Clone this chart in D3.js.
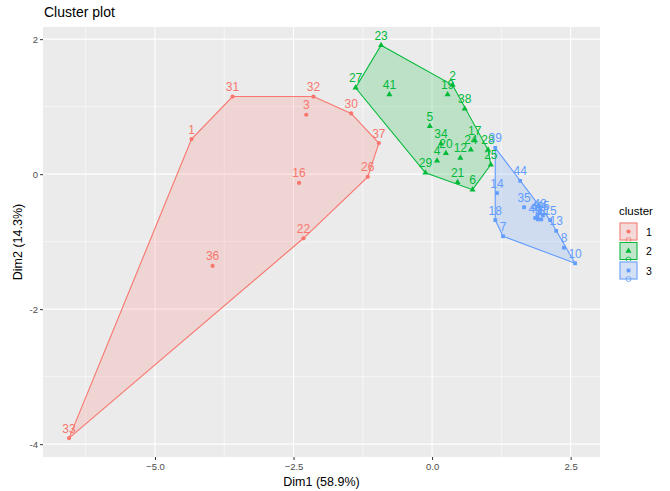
<!DOCTYPE html>
<html><head><meta charset="utf-8">
<script src="https://cdn.jsdelivr.net/npm/d3@7"></script>
<style>body{margin:0;background:#fff;font-family:"Liberation Sans",Arial,sans-serif}</style>
</head><body><svg id="c" width="670" height="491"></svg>
<script>
const clusterNames = ["1","2","3"];
const clusterColors = ["#F8766D","#00BA38","#619CFF"];
const labels1 = ["1","3","16","22","26","30","31","32","33","36","37"];
const dim1_1 = [-4.34,-2.27,-2.40,-2.32,-1.16,-1.46,-3.60,-2.14,-6.55,-3.96,-0.96];
const dim2_1 = [0.52,0.88,-0.13,-0.95,-0.04,0.90,1.15,1.15,-3.91,-1.36,0.46];
const labels2 = ["23","27","41","2","19","38","5","34","20","4","12","24","17","28","25","29","21","6"];
const dim1_2 = [-0.92,-1.38,-0.77,0.37,0.28,0.59,-0.04,0.16,0.25,0.09,0.51,0.70,0.77,1.01,1.06,-0.12,0.46,0.73];
const dim2_2 = [1.91,1.28,1.18,1.32,1.18,0.97,0.71,0.45,0.31,0.20,0.24,0.36,0.50,0.36,0.14,0.02,-0.12,-0.23];
const labels3 = ["39","44","14","18","7","35","40","43","45","15","9","11","42","13","8","10"];
const dim1_3 = [1.14,1.59,1.17,1.14,1.28,1.66,1.86,1.95,2.00,2.13,1.91,1.97,1.90,2.24,2.38,2.58];
const dim2_3 = [0.39,-0.10,-0.28,-0.68,-0.92,-0.49,-0.65,-0.58,-0.61,-0.68,-0.67,-0.67,-0.62,-0.84,-1.09,-1.32];
const xTicks = [-5.0,-2.5,0.0,2.5];
const yTicks = [-4,-2,0,2];
const xMinor = [-6.25,-3.75,-1.25,1.25];
const yMinor = [-3,-1,1];

const groups = [
  {lab:labels1,x:dim1_1,y:dim2_1},
  {lab:labels2,x:dim1_2,y:dim2_2},
  {lab:labels3,x:dim1_3,y:dim2_3}
];

const svg = d3.select("#c");
const L=43, R=600, T=27, B=457;
const x = d3.scaleLinear().domain([-7.02,3.03]).range([L,R]);
const y = d3.scaleLinear().domain([-4.19,2.18]).range([B,T]);

svg.append("rect").attr("x",L).attr("y",T).attr("width",R-L).attr("height",B-T).attr("fill","#EBEBEB");
const grid = svg.append("g");
xMinor.forEach(v=>grid.append("line").attr("x1",x(v)).attr("x2",x(v)).attr("y1",T).attr("y2",B).attr("stroke","#fff").attr("stroke-width",0.55));
yMinor.forEach(v=>grid.append("line").attr("y1",y(v)).attr("y2",y(v)).attr("x1",L).attr("x2",R).attr("stroke","#fff").attr("stroke-width",0.55));
xTicks.forEach(v=>grid.append("line").attr("x1",x(v)).attr("x2",x(v)).attr("y1",T).attr("y2",B).attr("stroke","#fff").attr("stroke-width",1.1));
yTicks.forEach(v=>grid.append("line").attr("y1",y(v)).attr("y2",y(v)).attr("x1",L).attr("x2",R).attr("stroke","#fff").attr("stroke-width",1.1));

// axes
const xAxis = d3.axisBottom(x).tickValues(xTicks).tickFormat(d3.format(".1f")).tickSize(3).tickPadding(3);
const yAxis = d3.axisLeft(y).tickValues(yTicks).tickFormat(d=>d).tickSize(3).tickPadding(2);
const gx = svg.append("g").attr("transform",`translate(0,${B})`).call(xAxis);
const gy = svg.append("g").attr("transform",`translate(${L},0)`).call(yAxis);
[gx,gy].forEach(g=>{
  g.select(".domain").remove();
  g.selectAll(".tick line").attr("stroke","#333");
  g.selectAll(".tick text").attr("fill","#4D4D4D").style("font-size","9.5px").style("font-family","Liberation Sans, Arial, sans-serif");
});

// hulls
groups.forEach((g,i)=>{
  const pts = g.x.map((v,j)=>[x(v),y(g.y[j])]);
  const hull = d3.polygonHull(pts);
  svg.append("path").attr("d","M"+hull.join("L")+"Z")
    .attr("fill",clusterColors[i]).attr("fill-opacity",0.2)
    .attr("stroke",clusterColors[i]).attr("stroke-width",1.1);
});

// points
const sym = [d3.symbolCircle,d3.symbolTriangle,d3.symbolSquare];
const symSize = [14,16,14];
groups.forEach((g,i)=>{
  g.x.forEach((v,j)=>{
    svg.append("path").attr("d",d3.symbol().type(sym[i]).size(symSize[i])())
      .attr("transform",`translate(${x(v)},${y(g.y[j])})`).attr("fill",clusterColors[i]);
  });
});
// labels
groups.forEach((g,i)=>{
  g.x.forEach((v,j)=>{
    svg.append("text").attr("x",x(v)).attr("y",y(g.y[j])-5.5)
      .attr("text-anchor","middle").attr("fill",clusterColors[i])
      .style("font-size","12px").text(g.lab[j]);
  });
});

// titles
svg.append("text").attr("x",44).attr("y",17).style("font-size","14px").attr("fill","#000").text("Cluster plot");
svg.append("text").attr("x",(L+R)/2).attr("y",486).attr("text-anchor","middle").style("font-size","12.5px").attr("fill","#000").text("Dim1 (58.9%)");
svg.append("text").attr("transform",`translate(22,${(T+B)/2}) rotate(-90)`).attr("text-anchor","middle").style("font-size","12.5px").attr("fill","#000").text("Dim2 (14.3%)");

// legend
const lg = svg.append("g");
lg.append("text").attr("x",619).attr("y",215).style("font-size","11.5px").attr("fill","#000").text("cluster");
clusterNames.forEach((n,i)=>{
  const ky = 222 + i*19.5;
  lg.append("rect").attr("x",619).attr("y",ky).attr("width",19).attr("height",19).attr("fill","#F2F2F2");
  lg.append("rect").attr("x",620).attr("y",ky+1).attr("width",17).attr("height",17)
    .attr("fill",clusterColors[i]).attr("fill-opacity",0.2).attr("stroke",clusterColors[i]).attr("stroke-width",1);
  lg.append("path").attr("d",d3.symbol().type(sym[i]).size(symSize[i])())
    .attr("transform",`translate(628.5,${ky+9.5})`).attr("fill",clusterColors[i]);
  lg.append("circle").attr("cx",628.5).attr("cy",ky+18).attr("r",2.5).attr("fill","none").attr("stroke",clusterColors[i]).attr("stroke-width",0.8);
  lg.append("text").attr("x",646).attr("y",ky+13.5).style("font-size","10.5px").attr("fill","#000").text(n);
});
</script></body></html>
